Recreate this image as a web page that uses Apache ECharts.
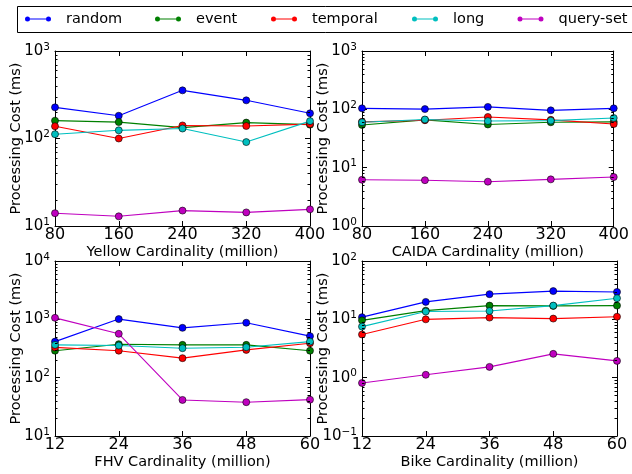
<!DOCTYPE html>
<html>
<head>
<meta charset="utf-8">
<script src="https://cdn.jsdelivr.net/npm/echarts@6/dist/echarts.min.js"></script>
<style>html,body{margin:0;padding:0;background:#fff}#c{width:632px;height:474px}</style>
</head>
<body>
<div id="c"></div>
<script>
// ---- data ----
const seriesNames = ['random', 'event', 'temporal', 'long', 'query-set'];
const seriesColors = ['#0000ff', '#008000', '#ff0000', '#00bfbf', '#bf00bf'];

const yellowX = [80, 160, 240, 320, 400];
const yellowRandom = [227, 182, 355, 273, 194];
const yellowEvent = [160, 154, 133, 152, 144];
const yellowTemporal = [138, 100, 141, 139, 146];
const yellowLong = [112, 124, 130, 91, 158];
const yellowQuerySet = [14.0, 12.9, 15.0, 14.3, 15.5];

const caidaX = [80, 160, 240, 320, 400];
const caidaRandom = [104, 101, 110, 96, 104];
const caidaEvent = [54, 66, 55, 60, 61];
const caidaTemporal = [61, 65, 74, 66, 56];
const caidaLong = [60, 67, 63, 64, 71];
const caidaQuerySet = [6.2, 6.1, 5.75, 6.3, 6.9];

const fhvX = [12, 24, 36, 48, 60];
const fhvRandom = [415, 1010, 715, 875, 515];
const fhvEvent = [290, 375, 365, 365, 290];
const fhvTemporal = [330, 290, 216, 299, 390];
const fhvLong = [365, 355, 320, 333, 415];
const fhvQuerySet = [1060, 565, 41.5, 38, 42];

const bikeX = [12, 24, 36, 48, 60];
const bikeRandom = [10.9, 19.9, 27, 30.5, 29.5];
const bikeEvent = [9.6, 14.1, 17.2, 17.0, 17.2];
const bikeTemporal = [5.5, 10.0, 10.7, 10.3, 11.1];
const bikeLong = [7.5, 13.6, 13.9, 17.2, 23];
const bikeQuerySet = [0.81, 1.12, 1.53, 2.56, 1.94];

const xAxisTitles = ['Yellow Cardinality (million)', 'CAIDA Cardinality (million)', 'FHV Cardinality (million)', 'Bike Cardinality (million)'];
const yAxisTitle = 'Processing Cost (ms)';
const xRanges = [[80, 400, 80], [80, 400, 80], [12, 60, 12], [12, 60, 12]];
const yRanges = [[10, 1000], [1, 1000], [10, 10000], [0.1, 100]];

const panels = [
  { x: yellowX, ys: [yellowRandom, yellowEvent, yellowTemporal, yellowLong, yellowQuerySet] },
  { x: caidaX, ys: [caidaRandom, caidaEvent, caidaTemporal, caidaLong, caidaQuerySet] },
  { x: fhvX, ys: [fhvRandom, fhvEvent, fhvTemporal, fhvLong, fhvQuerySet] },
  { x: bikeX, ys: [bikeRandom, bikeEvent, bikeTemporal, bikeLong, bikeQuerySet] }
];

// ---- layout ----
const FONT = 'DejaVu Sans';
const gridBoxes = [
  { left: 55, top: 51, width: 255, height: 175 },
  { left: 362, top: 51, width: 255, height: 175 },
  { left: 55, top: 261, width: 255, height: 175 },
  { left: 362, top: 261, width: 255, height: 175 }
];

const axisLine = { show: true, onZero: false, lineStyle: { color: '#000', width: 1 } };

function expLabel(v) {
  const e = Math.round(Math.log10(v));
  const s = e < 0 ? '\u2212' + (-e) : String(e);
  return '{b|10}{s|' + s + '}';
}
const richLabel = {
  b: { fontFamily: FONT, fontSize: 15, lineHeight: 19, color: '#000' },
  s: { fontFamily: FONT, fontSize: 10.5, lineHeight: 10, verticalAlign: 'top', color: '#000' }
};

const grid = [], xAxis = [], yAxis = [], series = [];
gridBoxes.forEach((g, i) => {
  grid.push(Object.assign({ containLabel: false }, g));
  const [xmin, xmax, xint] = xRanges[i];
  const [ymin, ymax] = yRanges[i];
  xAxis.push({
    gridIndex: i, type: 'value', position: 'bottom', min: xmin, max: xmax, interval: xint,
    axisLine, splitLine: { show: false },
    axisTick: { show: true, inside: true, length: 5, lineStyle: { color: '#000' } },
    axisLabel: { fontFamily: FONT, fontSize: 16, color: '#000', margin: 1 },
    name: xAxisTitles[i], nameLocation: 'middle', nameGap: 19, nameMoveOverlap: false,
    nameTextStyle: { fontFamily: FONT, fontSize: 14.5, color: '#000' }
  });
  xAxis.push({
    gridIndex: i, type: 'value', position: 'top', min: xmin, max: xmax, interval: xint,
    axisLine, splitLine: { show: false },
    axisTick: { show: true, inside: true, length: 5, lineStyle: { color: '#000' } },
    axisLabel: { show: false }
  });
  yAxis.push({
    gridIndex: i, type: 'log', logBase: 10, position: 'left', min: ymin, max: ymax,
    axisLine, splitLine: { show: false },
    axisTick: { show: true, inside: true, length: 5, lineStyle: { color: '#000' } },
    axisLabel: { formatter: expLabel, rich: richLabel, margin: 5 },
    name: yAxisTitle, nameLocation: 'middle', nameGap: 31, nameMoveOverlap: false,
    nameTextStyle: { fontFamily: FONT, fontSize: 14.5, color: '#000' }
  });
  yAxis.push({
    gridIndex: i, type: 'log', logBase: 10, position: 'right', min: ymin, max: ymax,
    axisLine, splitLine: { show: false },
    axisTick: { show: true, inside: true, length: 5, lineStyle: { color: '#000' } },
    axisLabel: { show: false }
  });

  const xi = i * 2, yi = i * 2;
  panels[i].ys.forEach((ys, k) => {
    series.push({
      type: 'line', name: seriesNames[k], xAxisIndex: xi, yAxisIndex: yi,
      data: panels[i].x.map((xv, j) => [xv, ys[j]]),
      symbol: 'circle', symbolSize: 7, showSymbol: true,
      lineStyle: { color: seriesColors[k], width: 1.1 },
      itemStyle: { color: seriesColors[k], borderColor: '#000', borderWidth: 0.6 },
      emphasis: { disabled: true }, clip: false, z: 3
    });
  });

  // minor log ticks (positions come from the log axis scale)
  const minor = [];
  for (let e = Math.round(Math.log10(ymin)); e < Math.round(Math.log10(ymax)); e++) {
    for (let m = 2; m <= 9; m++) minor.push([xmin, m * Math.pow(10, e)]);
  }
  series.push({
    type: 'custom', xAxisIndex: xi, yAxisIndex: yi, silent: true, z: 4,
    data: minor, encode: { x: 0, y: 1 },
    renderItem: function (params, api) {
      const cs = params.coordSys;
      const p = api.coord([api.value(0), api.value(1)]);
      const y = Math.round(p[1]) + 0.5;
      return {
        type: 'group', children: [
          { type: 'line', shape: { x1: cs.x, y1: y, x2: cs.x + 2.5, y2: y }, style: { stroke: '#000', lineWidth: 1 } },
          { type: 'line', shape: { x1: cs.x + cs.width - 2.5, y1: y, x2: cs.x + cs.width, y2: y }, style: { stroke: '#000', lineWidth: 1 } }
        ]
      };
    }
  });
});

// ---- legend (one component per entry, matplotlib-style spacing) ----
const legendIcon = 'path://M0,2.5A2.5,2.5,0,1,1,5,2.5A2.5,2.5,0,1,1,0,2.5Z M21,2.5A2.5,2.5,0,1,1,26,2.5A2.5,2.5,0,1,1,21,2.5Z M5,2L21,2L21,3L5,3Z';
const legendLefts = [25, 155, 271, 412, 517.5];
const legend = seriesNames.map((n, k) => ({
  left: legendLefts[k], top: 11.5, padding: 0, itemGap: 0,
  itemWidth: 26, itemHeight: 5, selectedMode: false,
  data: [{ name: n, icon: legendIcon, itemStyle: { color: seriesColors[k], borderWidth: 0 } }],
  textStyle: { fontFamily: FONT, fontSize: 14.5, color: '#000', padding: [0, 0, 0, 10] }
}));

const chart = echarts.init(document.getElementById('c'), null, { renderer: 'canvas' });
chart.setOption({
  animation: false,
  backgroundColor: '#fff',
  grid, xAxis, yAxis, series, legend,
  graphic: [{
    type: 'rect', shape: { x: 17.5, y: 6.5, width: 700, height: 26 },
    style: { fill: 'none', stroke: '#000', lineWidth: 1 }, z: 10, silent: true
  }]
});
</script>
</body>
</html>
